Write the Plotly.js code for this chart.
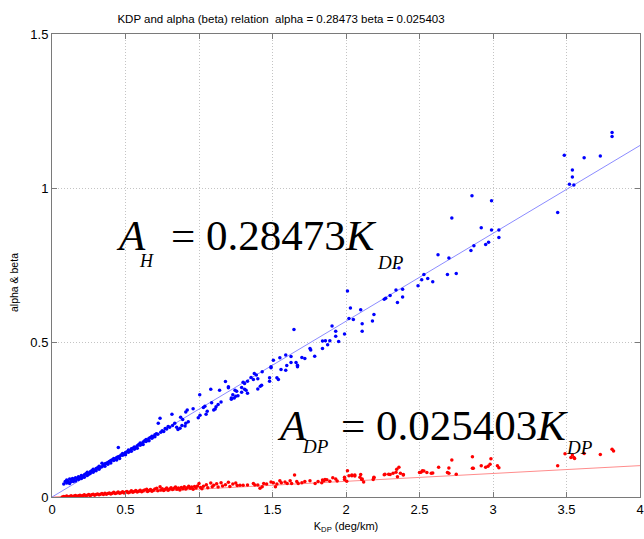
<!DOCTYPE html>
<html>
<head>
<meta charset="utf-8">
<script src="https://cdn.plot.ly/plotly-3.0.1.min.js"></script>
<style>html,body{margin:0;padding:0;background:#fff}#chart{width:644px;height:539px}</style>
</head>
<body>
<div id="chart"></div>
<script>
var xTicks = [0, 0.5, 1, 1.5, 2, 2.5, 3, 3.5, 4];
var yTicks = [0, 0.5, 1, 1.5];

var alphaX = [0.08,0.09,0.10,0.10,0.11,0.12,0.12,0.13,0.13,0.14,0.145,0.15,0.16,0.16,0.17,0.18,0.18,0.19,0.20,0.20,0.21,0.22,0.22,0.23,0.24,0.24,0.25,0.26,0.26,0.27,0.28,0.28,0.29,0.30,0.30,0.31,0.32,0.32,0.33,0.34,0.34,0.35,0.36,0.36,0.37,0.38,0.38,0.39,0.40,0.40,0.41,0.42,0.42,0.43,0.44,0.44,0.45,0.451,0.46,0.46,0.47,0.48,0.48,0.49,0.50,0.50,0.51,0.52,0.52,0.53,0.54,0.54,0.55,0.56,0.56,0.57,0.58,0.58,0.59,0.60,0.60,0.61,0.62,0.62,0.63,0.64,0.64,0.65,0.66,0.66,0.67,0.68,0.68,0.69,0.70,0.70,0.71,0.72,0.723,0.735,0.74,0.75,0.76,0.77,0.78,0.79,0.80,0.816,0.82,0.835,0.848,0.857,0.871,0.875,0.884,0.889,0.905,0.91,0.91,0.92,0.927,0.96,0.995,1.005,1.007,
1.03,1.04,1.048,1.056,1.08,1.086,1.10,1.11,1.116,1.13,1.14,1.15,1.18,1.20,1.20,1.22,1.22,1.23,1.24,1.245,1.25,1.256,1.265,1.29,1.29,1.30,1.31,1.31,1.32,1.33,1.33,1.354,1.37,1.376,1.39,1.40,1.40,1.417,1.426,1.43,1.48,1.48,1.49,1.49,1.506,1.53,1.54,1.55,1.558,1.59,1.59,1.597,1.626,1.626,1.646,1.66,1.67,1.67,1.70,1.72,1.755,1.76,1.787,1.84,1.84,1.86,1.875,1.89,1.905,1.93,1.93,1.95,1.99,2.01,2.02,2.03,2.05,2.10,2.11,2.11,2.18,2.19,2.26,2.27,2.30,2.34,2.35,2.36,2.385,2.385,2.49,2.515,2.53,2.556,2.59,2.626,2.69,2.70,2.72,2.75,2.85,2.857,2.87,2.92,2.95,2.97,2.99,2.99,3.04,3.04,3.44,3.485,3.52,3.54,3.54,3.55,3.62,3.73,3.81,3.81];
var alphaY = [0.042,0.050,0.045,0.055,0.050,0.058,0.044,0.057,0.050,0.060,0.050,0.055,0.062,0.052,0.060,0.066,0.057,0.063,0.070,0.060,0.066,0.072,0.064,0.075,0.070,0.080,0.074,0.082,0.076,0.085,0.080,0.090,0.086,0.092,0.085,0.095,0.090,0.100,0.096,0.109,0.098,0.103,0.108,0.100,0.109,0.112,0.106,0.115,0.118,0.110,0.121,0.118,0.125,0.122,0.128,0.120,0.130,0.160,0.132,0.125,0.136,0.135,0.141,0.138,0.144,0.137,0.147,0.145,0.152,0.150,0.156,0.148,0.158,0.155,0.162,0.160,0.166,0.158,0.170,0.168,0.175,0.172,0.178,0.170,0.182,0.180,0.186,0.184,0.190,0.182,0.193,0.190,0.197,0.196,0.202,0.195,0.205,0.203,0.239,0.255,0.210,0.215,0.212,0.222,0.220,0.228,0.226,0.268,0.232,0.239,0.226,0.219,0.223,0.258,0.232,0.251,0.230,0.239,0.275,0.282,0.244,0.286,0.257,0.331,0.265,
0.290,0.294,0.268,0.278,0.349,0.305,0.282,0.285,0.292,0.300,0.346,0.308,0.374,0.354,0.357,0.321,0.317,0.331,0.321,0.346,0.326,0.343,0.328,0.355,0.339,0.372,0.349,0.368,0.346,0.375,0.336,0.387,0.381,0.400,0.395,0.383,0.350,0.359,0.362,0.406,0.386,0.375,0.419,0.422,0.443,0.386,0.381,0.451,0.413,0.460,0.411,0.426,0.455,0.436,0.543,0.436,0.427,0.422,0.452,0.449,0.481,0.476,0.456,0.505,0.481,0.506,0.493,0.506,0.554,0.537,0.521,0.504,0.528,0.667,0.578,0.612,0.575,0.607,0.561,0.537,0.570,0.591,0.641,0.644,0.653,0.671,0.630,0.742,0.673,0.648,0.684,0.704,0.721,0.708,0.697,0.785,0.721,0.774,0.904,0.724,0.799,0.976,0.814,0.872,0.818,0.825,0.960,0.865,0.865,0.841,0.922,1.107,1.013,1.059,1.037,1.011,1.099,1.105,1.181,1.168];

var betaX = [0.07,0.08,0.09,0.10,0.11,0.12,0.13,0.14,0.15,0.16,0.17,0.18,0.19,0.20,0.21,0.22,0.23,0.24,0.25,0.26,0.27,0.28,0.29,0.30,0.31,0.32,0.33,0.34,0.35,0.36,0.37,0.38,0.39,0.40,0.41,0.42,0.43,0.44,0.45,0.46,0.47,0.48,0.49,0.50,0.51,0.52,0.53,0.54,0.55,0.56,0.57,0.58,0.59,0.60,0.61,0.62,0.63,0.644,0.65,0.66,0.67,0.68,0.69,0.70,0.712,0.72,0.735,0.74,0.75,0.76,0.77,0.78,0.79,0.80,0.81,0.82,0.83,0.84,0.85,0.86,0.87,0.88,0.89,0.90,0.91,0.92,0.93,0.94,0.95,0.96,0.97,0.98,0.99,1.00,1.01,1.02,1.03,1.05,1.06,1.08,1.09,1.10,1.12,1.13,1.15,1.16,1.18,1.20,1.21,1.23,1.25,1.26,
1.279,1.30,1.33,1.37,1.38,1.40,1.415,1.43,1.44,1.46,1.49,1.506,1.52,1.53,1.55,1.56,1.585,1.60,1.62,1.63,1.65,1.665,1.675,1.70,1.72,1.755,1.79,1.81,1.835,1.84,1.85,1.857,1.87,1.89,1.91,1.93,1.94,1.99,1.99,2.005,2.01,2.02,2.04,2.04,2.06,2.06,2.095,2.10,2.107,2.11,2.12,2.185,2.19,2.19,2.26,2.265,2.29,2.30,2.32,2.34,2.345,2.35,2.36,2.37,2.39,2.39,2.50,2.51,2.52,2.53,2.55,2.58,2.59,2.63,2.69,2.70,2.70,2.72,2.75,2.86,2.86,2.866,2.92,2.95,2.966,2.98,2.986,3.03,3.04,3.44,3.49,3.53,3.54,3.55,3.555,3.62,3.73,3.81,3.82];
var betaY = [0.000,0.002,0.001,0.003,0.000,0.002,0.004,0.001,0.003,0.005,0.002,0.004,0.006,0.003,0.005,0.007,0.004,0.006,0.008,0.005,0.007,0.009,0.006,0.008,0.010,0.007,0.009,0.011,0.008,0.012,0.009,0.011,0.013,0.010,0.012,0.015,0.011,0.013,0.016,0.012,0.014,0.017,0.013,0.015,0.018,0.014,0.016,0.020,0.015,0.018,0.021,0.016,0.019,0.022,0.017,0.020,0.023,0.025,0.018,0.021,0.024,0.019,0.022,0.026,0.028,0.020,0.033,0.023,0.027,0.021,0.025,0.029,0.022,0.026,0.030,0.024,0.028,0.032,0.025,0.029,0.023,0.031,0.027,0.033,0.026,0.030,0.035,0.028,0.032,0.025,0.034,0.029,0.036,0.044,0.031,0.027,0.035,0.040,0.030,0.045,0.033,0.038,0.043,0.032,0.046,0.036,0.040,0.048,0.034,0.042,0.045,0.037,
0.038,0.038,0.039,0.044,0.039,0.039,0.028,0.033,0.044,0.042,0.049,0.046,0.033,0.042,0.053,0.046,0.049,0.044,0.053,0.044,0.071,0.050,0.044,0.046,0.050,0.053,0.044,0.050,0.046,0.055,0.053,0.057,0.056,0.051,0.062,0.058,0.052,0.057,0.064,0.051,0.085,0.069,0.069,0.071,0.068,0.071,0.064,0.073,0.057,0.058,0.049,0.057,0.062,0.064,0.072,0.074,0.074,0.073,0.077,0.080,0.090,0.066,0.096,0.077,0.073,0.071,0.079,0.080,0.085,0.084,0.079,0.077,0.078,0.096,0.079,0.094,0.077,0.120,0.074,0.130,0.093,0.093,0.101,0.096,0.100,0.106,0.124,0.101,0.095,0.101,0.140,0.128,0.136,0.128,0.125,0.141,0.138,0.155,0.149];

var alphaFitX = [0, 4];
var alphaFitY = [0, 1.1389];
var betaFitX = [0, 4];
var betaFitY = [0, 0.1016];

var data = [
  {x: betaFitX, y: betaFitY, mode: 'lines', line: {color: '#ff8c8c', width: 1}, hoverinfo: 'skip'},
  {x: alphaFitX, y: alphaFitY, mode: 'lines', line: {color: '#8c8cff', width: 1}, hoverinfo: 'skip'},
  {x: alphaX, y: alphaY, mode: 'markers', marker: {color: '#0000ff', size: 3.5}},
  {x: betaX, y: betaY, mode: 'markers', marker: {color: '#ff0000', size: 3.5}}
];

var sansFont = '"Liberation Sans", Arial, sans-serif';
var serifFont = '"Liberation Serif", "Times New Roman", Times, serif';

// pixel helpers for annotation placement (plot area: x 52..640, y 34..497)
function px(v) { return (v - 52) / 588; }
function py(v) { return (497 - v) / 463; }
function eq(text, x, y, size) {
  return {text: text, xref: 'paper', yref: 'paper', x: px(x), y: py(y), xanchor: 'left', yanchor: 'middle',
          showarrow: false, font: {family: serifFont, size: size, color: '#000'}};
}

var axisCommon = {
  showgrid: true, gridcolor: '#c4c4c4', griddash: '1px,2px', gridwidth: 1,
  showline: true, linecolor: '#7a7a7a', linewidth: 1, mirror: 'ticks',
  ticks: 'inside', ticklen: 5, tickcolor: '#7a7a7a',
  zeroline: false,
  tickfont: {family: sansFont, size: 13, color: '#000'}
};

var layout = {
  width: 644, height: 539,
  margin: {l: 52, r: 4, t: 34, b: 42},
  paper_bgcolor: '#fff', plot_bgcolor: '#fff',
  showlegend: false,
  title: {text: 'KDP and alpha (beta) relation  alpha = 0.28473 beta = 0.025403',
          font: {family: sansFont, size: 11.5, color: '#000'},
          x: 281/644, xref: 'container', xanchor: 'center',
          y: 1 - 19/539, yref: 'container', yanchor: 'middle'},
  xaxis: Object.assign({}, axisCommon, {range: [0, 4], tickvals: xTicks, ticktext: xTicks.map(String),
    title: {text: 'K<sub>DP</sub> (deg/km)', font: {family: sansFont, size: 11, color: '#000'}, standoff: 6}}),
  yaxis: Object.assign({}, axisCommon, {range: [0, 1.5], tickvals: yTicks, ticktext: yTicks.map(String)}),
  annotations: [
    {text: 'alpha & beta', xref: 'paper', yref: 'paper', x: -38/588, y: (497-283)/463, textangle: -90,
     showarrow: false, xanchor: 'center', yanchor: 'middle',
     font: {family: sansFont, size: 10.5, color: '#000'}},
    eq('<i>A</i>', 114, 235, 43),
    eq('<i>H</i>', 137, 261, 18),
    eq('= 0.28473<i>K</i>', 169, 235, 43),
    eq('<i>DP</i>', 375, 262, 19),
    eq('<i>A</i>', 275, 425, 43),
    eq('<i>DP</i>', 300, 446, 19),
    eq('= 0.025403<i>K</i>', 339, 425, 43),
    eq('<i>DP</i>', 564, 447, 19)
  ]
};

Plotly.newPlot('chart', data, layout, {displayModeBar: false, staticPlot: true});
</script>
</body>
</html>
